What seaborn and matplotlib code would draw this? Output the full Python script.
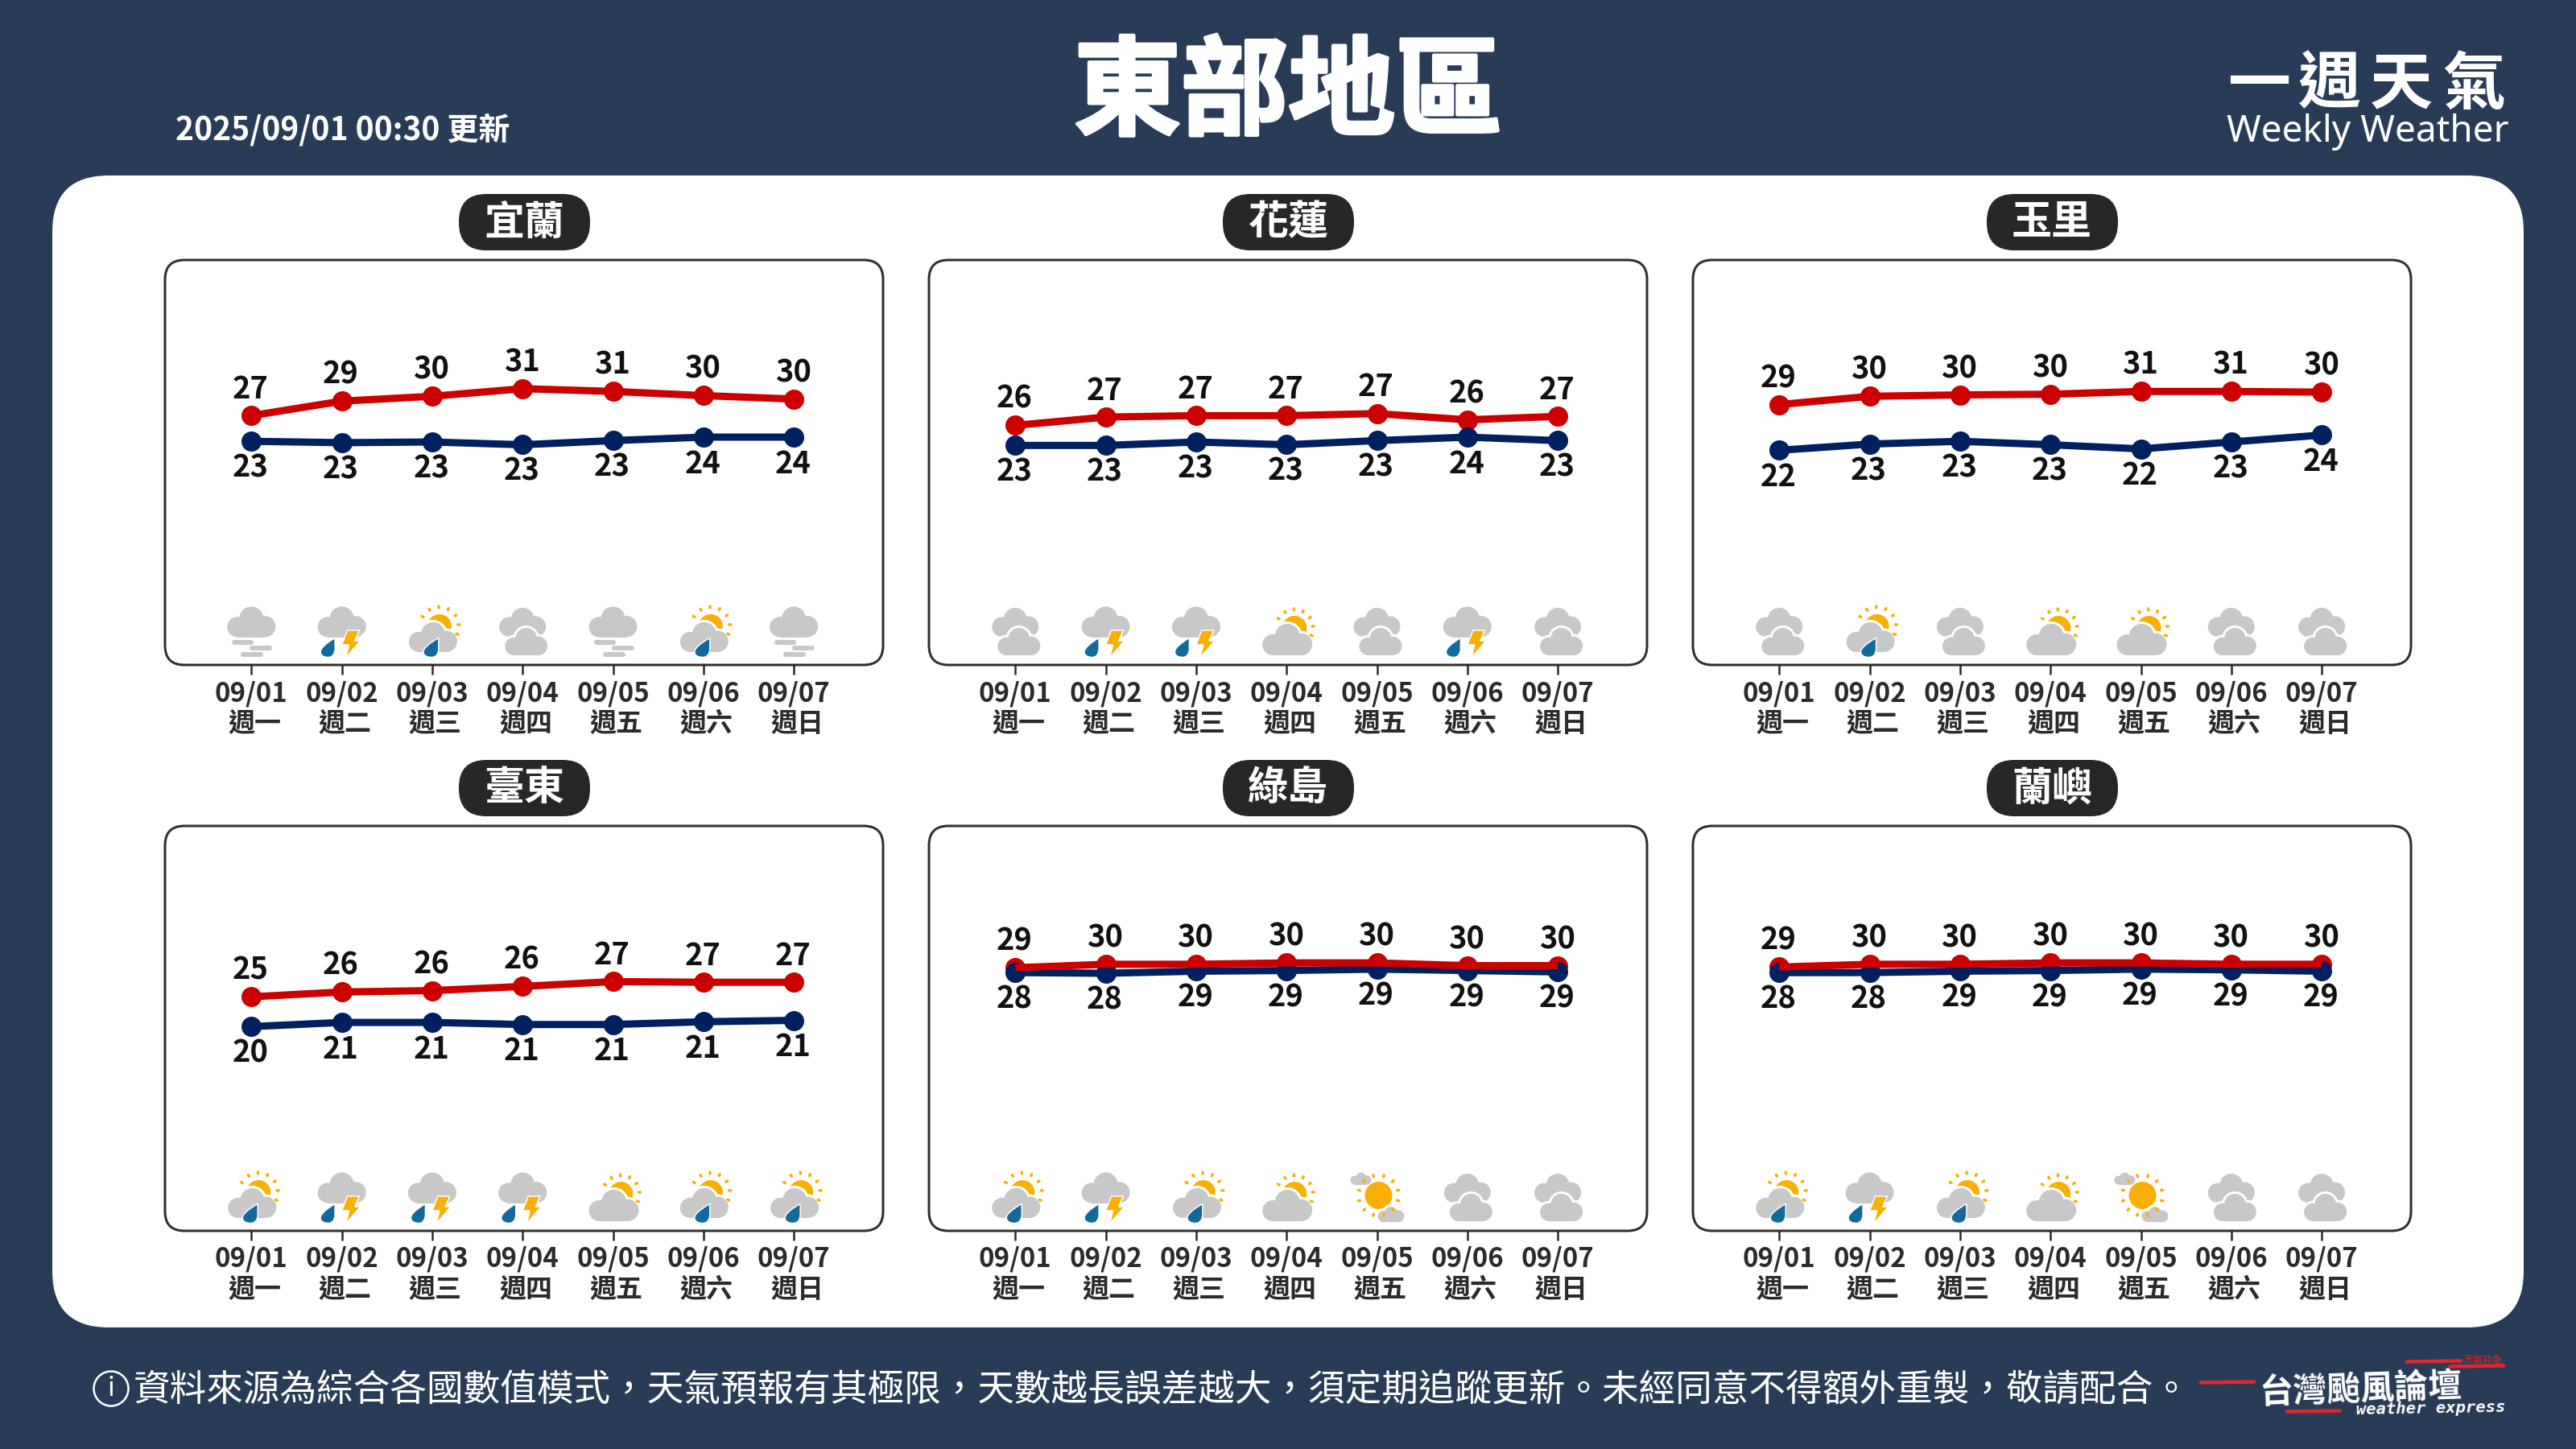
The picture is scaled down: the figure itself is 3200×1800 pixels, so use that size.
import numpy as np
import seaborn as sns
import matplotlib
matplotlib.use('Agg')
import matplotlib.pyplot as plt
from matplotlib.patches import Circle, FancyBboxPatch, PathPatch, Polygon, Rectangle
from matplotlib.path import Path
import matplotlib.patheffects as pe

dates = ['09/01', '09/02', '09/03', '09/04', '09/05', '09/06', '09/07']
weeks = ['週一', '週二', '週三', '週四', '週五', '週六', '週日']
stations = ['宜蘭', '花蓮', '玉里', '臺東', '綠島', '蘭嶼']

yilan_high = [27.1, 29.2, 29.9, 31.0, 30.6, 30.0, 29.5]
yilan_low = [23.4, 23.2, 23.3, 22.9, 23.5, 24.0, 24.0]
yilan_high_lab = [27, 29, 30, 31, 31, 30, 30]
yilan_low_lab = [23, 23, 23, 23, 23, 24, 24]
yilan_icons = ['fog', 'thunder', 'sunrain', 'cloudy', 'fog', 'sunrain', 'fog']

hualien_high = [25.7, 26.9, 27.1, 27.1, 27.4, 26.5, 27.0]
hualien_low = [22.8, 22.8, 23.3, 22.9, 23.5, 24.0, 23.5]
hualien_high_lab = [26, 27, 27, 27, 27, 26, 27]
hualien_low_lab = [23, 23, 23, 23, 23, 24, 23]
hualien_icons = ['cloudy', 'thunder', 'thunder', 'suncloud', 'cloudy', 'thunder', 'cloudy']

yuli_high = [28.7, 29.9, 30.1, 30.2, 30.6, 30.6, 30.5]
yuli_low = [22.1, 23.0, 23.4, 22.9, 22.3, 23.3, 24.3]
yuli_high_lab = [29, 30, 30, 30, 31, 31, 30]
yuli_low_lab = [22, 23, 23, 23, 22, 23, 24]
yuli_icons = ['cloudy', 'sunrain', 'cloudy', 'suncloud', 'suncloud', 'cloudy', 'cloudy']

taitung_high = [24.9, 25.6, 25.8, 26.4, 27.1, 27.0, 27.0]
taitung_low = [20.6, 21.2, 21.2, 20.9, 20.9, 21.3, 21.5]
taitung_high_lab = [25, 26, 26, 26, 27, 27, 27]
taitung_low_lab = [20, 21, 21, 21, 21, 21, 21]
taitung_icons = ['sunrain', 'thunder', 'thunder', 'thunder', 'suncloud', 'sunrain', 'sunrain']

ludao_high = [29.1, 29.6, 29.6, 29.8, 29.8, 29.4, 29.4]
ludao_low = [28.4, 28.3, 28.6, 28.7, 28.9, 28.7, 28.5]
ludao_high_lab = [29, 30, 30, 30, 30, 30, 30]
ludao_low_lab = [28, 28, 29, 29, 29, 29, 29]
ludao_icons = ['sunrain', 'thunder', 'sunrain', 'suncloud', 'sunny', 'cloudy', 'cloudy']

lanyu_high = [29.2, 29.6, 29.6, 29.8, 29.8, 29.6, 29.6]
lanyu_low = [28.4, 28.4, 28.6, 28.7, 28.9, 28.8, 28.6]
lanyu_high_lab = [29, 30, 30, 30, 30, 30, 30]
lanyu_low_lab = [28, 28, 29, 29, 29, 29, 29]
lanyu_icons = ['sunrain', 'thunder', 'sunrain', 'suncloud', 'sunny', 'cloudy', 'cloudy']

highs = [yilan_high, hualien_high, yuli_high, taitung_high, ludao_high, lanyu_high]
lows = [yilan_low, hualien_low, yuli_low, taitung_low, ludao_low, lanyu_low]
high_labs = [yilan_high_lab, hualien_high_lab, yuli_high_lab, taitung_high_lab, ludao_high_lab, lanyu_high_lab]
low_labs = [yilan_low_lab, hualien_low_lab, yuli_low_lab, taitung_low_lab, ludao_low_lab, lanyu_low_lab]
icons = [yilan_icons, hualien_icons, yuli_icons, taitung_icons, ludao_icons, lanyu_icons]

# U+FF0C full width comma, as in the original
footnote = '\uff0c'.join(['資料來源為綜合各國數值模式', '天氣預報有其極限', '天數越長誤差越大',
                          '須定期追蹤更新。未經同意不得額外重製', '敬請配合。'])

NAVY_BG = '#293C57'
RED = '#CC0000'
BLUE = '#002060'
GRAY = '#C8C8C8'
ORANGE = '#F8B005'
DROP = '#14699B'
CJK = ['Noto Sans CJK TC', 'DejaVu Sans']

sns.set_theme(style='white')
plt.rcParams['font.family'] = CJK
plt.rcParams['axes.unicode_minus'] = False


def pt(px):
    return px * 72 / 200


fig = plt.figure(figsize=(16, 9), dpi=200, facecolor=NAVY_BG)

# whole figure in image pixels, y going down
bg = fig.add_axes([0, 0, 1, 1], zorder=0)
bg.set_xlim(0, 3200)
bg.set_ylim(1800, 0)
bg.axis('off')


def cloud(cx, cy, w, h, outline=False):
    parts = [((0, -h / 2 + 0.25 * w), 0.25 * w), ((-0.29 * w, h / 2 - 0.21 * w), 0.21 * w),
             ((0.28 * w, h / 2 - 0.22 * w), 0.22 * w)]
    if outline:
        for (dx, dy), r in parts:
            bg.add_patch(Circle((cx + dx, cy + dy), r + 3, fc='white', ec='none'))
        bg.add_patch(Rectangle((cx - 0.29 * w, cy + h / 2 - 0.3 * w - 3), 0.57 * w, 0.3 * w + 6, fc='white', ec='none'))
    for (dx, dy), r in parts:
        bg.add_patch(Circle((cx + dx, cy + dy), r, fc=GRAY, ec='none'))
    bg.add_patch(Rectangle((cx - 0.29 * w, cy + h / 2 - 0.3 * w), 0.57 * w, 0.3 * w, fc=GRAY, ec='none'))


def drop(cx, cy, w, h):
    pts = [(0.45, -0.5), (-0.2, -0.2), (-0.5, 0.05), (-0.5, 0.22), (-0.5, 0.42), (-0.25, 0.5), (0, 0.5),
           (0.3, 0.5), (0.45, 0.3), (0.45, 0.05), (0.45, -0.15), (0.45, -0.35), (0.45, -0.5)]
    verts = [(cx + a * w, cy + b * h) for a, b in pts]
    codes = [Path.MOVETO] + [Path.CURVE4] * 12
    bg.add_patch(PathPatch(Path(verts, codes), fc=DROP, ec='white', lw=pt(1.5)))


def bolt(cx, cy):
    pts = [(7, -2), (22, -2), (16, 11), (23, 11), (5, 32), (9, 16), (0, 16)]
    bg.add_patch(Polygon([(cx + a, cy + b) for a, b in pts], fc=ORANGE, ec='white', lw=pt(1.5)))


def sun(cx, cy, r, ray, angles):
    bg.add_patch(Circle((cx, cy), r, fc=ORANGE, ec='none'))
    for a in angles:
        ca, sa = np.cos(np.radians(a)), np.sin(np.radians(a))
        bg.plot([cx + ca * ray, cx + ca * (ray + 2)], [cy + sa * ray, cy + sa * (ray + 2)],
                color=ORANGE, lw=pt(3.5), solid_capstyle='round')


def draw_icon(kind, cx, cy):
    if kind == 'fog':
        cloud(cx, cy - 12.5, 60, 38)
        for x0, x1, dy in [(-21, 0, 12.6), (1, 23, 20), (-10, 12, 28)]:
            bg.plot([cx + x0, cx + x1], [cy + dy, cy + dy], color=GRAY, lw=pt(6), solid_capstyle='round')
    elif kind == 'thunder':
        cloud(cx, cy - 12.5, 60, 38)
        drop(cx - 17, cy + 19.5, 19, 24)
        bolt(cx, cy)
    elif kind == 'sunrain':
        sun(cx + 9, cy - 7, 15, 23, range(-150, 30, 29))
        cloud(cx + 1, cy + 6.5, 60, 37, outline=True)
        drop(cx - 1, cy + 19.5, 20, 24)
    elif kind == 'cloudy':
        cloud(cx, cy - 12, 58, 36)
        cloud(cx + 4.5, cy + 12, 53, 34, outline=True)
    elif kind == 'suncloud':
        sun(cx + 10, cy - 5, 15, 22, range(-150, 30, 29))
        cloud(cx + 1, cy + 9.5, 62, 39, outline=True)
    elif kind == 'sunny':
        cloud(cx - 20, cy - 24, 26, 15)
        sun(cx + 2, cy - 3, 17, 24, range(-165, 195, 30))
        cloud(cx + 17.5, cy + 20.5, 33, 19, outline=True)


# card
bg.add_patch(FancyBboxPatch((65, 218), 3070, 1431, boxstyle='round,pad=0,rounding_size=70', fc='white', ec='none'))

# header
bg.text(1600, 118, '東部地區', color='white', fontsize=pt(133), fontweight='bold', ha='center', va='center',
        path_effects=[pe.withStroke(linewidth=1.5, foreground='white')])
bg.text(218, 162, '2025/09/01 00:30 更新', color='white', fontsize=pt(39), fontweight='bold', ha='left', va='center')
for ch, xc in zip('一週天氣', [2807, 2894, 2983, 3073]):
    bg.text(xc, 106, ch, color='white', fontsize=pt(78), fontweight='bold', ha='center', va='center')
bg.text(2941, 164, 'Weekly Weather', color='white', fontsize=pt(46), family=['Noto Sans', 'DejaVu Sans'],
        ha='center', va='center')

# footer
bg.add_patch(Circle((138, 1725), 21.5, fc='none', ec='white', lw=pt(2.5)))
bg.text(138, 1725, 'i', color='white', fontsize=pt(32), ha='center', va='center')
bg.text(166, 1727, footnote, color='white', fontsize=pt(45.6), fontweight='light', ha='left', va='center')
for x0, x1, yy in [(2734, 2800, 1717), (2990, 3057, 1691), (3044, 3110, 1697), (2841, 2907, 1753)]:
    bg.plot([x0, x1], [yy + 0.5, yy - 0.5], color='#E0262C', lw=pt(4.5), solid_capstyle='round')
bg.text(2933, 1726, '台灣颱風論壇', color='white', fontsize=pt(42), fontweight='bold', ha='center', va='center', rotation=2)
bg.text(3020, 1750, 'weather express', color='white', fontsize=pt(20.5), family='DejaVu Sans Mono',
        fontweight='bold', style='italic', ha='center', va='center', rotation=1)
bg.text(3084, 1689, '天氣特急', color='#E0262C', fontsize=pt(12), ha='center', va='center')

panel_w, panel_h = 892, 503
col_x = [205, 1154, 2103]
row_y = [323, 1026]

for n, name in enumerate(stations):
    left = col_x[n % 3]
    top = row_y[n // 3]

    bg.add_patch(FancyBboxPatch((left, top), panel_w, panel_h, boxstyle='round,pad=0,rounding_size=24',
                                fc='white', ec='#2F2F2F', lw=pt(3)))
    pill_x = left + panel_w / 2
    bg.add_patch(FancyBboxPatch((pill_x - 81, top - 82), 163, 70, boxstyle='round,pad=0,rounding_size=34',
                                fc='#272727', ec='none'))
    bg.text(pill_x, top - 46, name, color='white', fontsize=pt(50), fontweight='bold', ha='center', va='center')

    ax = fig.add_axes([left / 3200, 1 - (top + panel_h) / 1800, panel_w / 3200, panel_h / 1800], zorder=1)
    ax.patch.set_alpha(0)
    days = list(range(7))

    # draw order as in the original: markers under lines, red line last
    sns.scatterplot(x=days, y=highs[n], ax=ax, color=RED, s=pt(25) ** 2, linewidth=0, zorder=2)
    sns.scatterplot(x=days, y=lows[n], ax=ax, color=BLUE, s=pt(25) ** 2, linewidth=0, zorder=3)
    sns.lineplot(x=days, y=lows[n], ax=ax, color=BLUE, lw=pt(9), zorder=4, solid_capstyle='butt')
    sns.lineplot(x=days, y=highs[n], ax=ax, color=RED, lw=pt(9), zorder=5, solid_capstyle='butt')

    ax.set_xlim(-0.955, 6.987)
    ax.set_ylim(-8.9, 49.58)
    ax.set_xlabel('')
    ax.set_ylabel('')
    ax.set_yticks([])
    ax.set_xticks(days, dates, fontsize=pt(33), fontweight='bold', color='#2B2B2B')
    ax.tick_params(axis='x', length=pt(12), width=pt(2.5), color='#2B2B2B', pad=pt(7), bottom=True)
    for s in ax.spines.values():
        s.set_visible(False)

    for i in days:
        ax.annotate(str(high_labs[n][i]), (i, highs[n][i]), xytext=(-1 * 0.36, pt(33)), textcoords='offset points',
                    ha='center', va='center', fontsize=pt(38), fontweight='bold', color='#111111')
        ax.annotate(str(low_labs[n][i]), (i, lows[n][i]), xytext=(-1 * 0.36, -pt(33)), textcoords='offset points',
                    ha='center', va='center', fontsize=pt(38), fontweight='bold', color='#111111')
        ax.annotate(weeks[i], (i, -0.146), xycoords=ax.get_xaxis_transform(), xytext=(pt(4), 0),
                    textcoords='offset points', ha='center', va='center', fontsize=pt(33), fontweight='bold',
                    color='#2B2B2B')
        px = ax.transData.transform((i, 0))[0]
        draw_icon(icons[n][i], px, top + 462)

fig.savefig('out.png', dpi=200, facecolor=NAVY_BG)
